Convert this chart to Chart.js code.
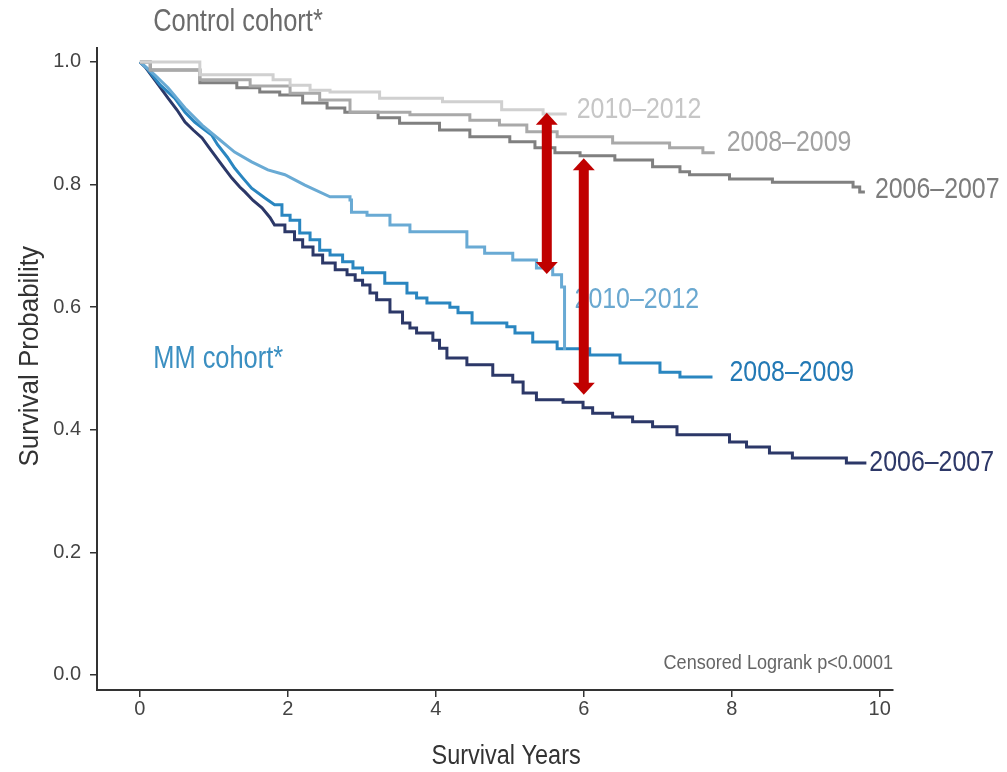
<!DOCTYPE html>
<html>
<head>
<meta charset="utf-8">
<script src="https://cdn.jsdelivr.net/npm/chart.js@4/dist/chart.umd.min.js"></script>
<style>
  body { margin: 0; background: #fff; }
  #wrap { width: 1007px; height: 772px; }
</style>
</head>
<body>
<div id="wrap"><canvas id="survival" width="1007" height="772"></canvas></div>
<script>
const xTicks = [0, 2, 4, 6, 8, 10];
const yTicks = [0, 0.2, 0.4, 0.6, 0.8, 1.0];

// control cohort (step times in years, survival after the step)
const ctrl0607Years = [0, 0.14, 0.81, 1.31, 1.62, 1.89, 2.20, 2.53, 2.77, 3.22, 3.51, 4.05, 4.46, 5.00, 5.34, 5.61, 5.95, 6.42, 6.93, 7.30, 7.43, 7.97, 8.55, 9.64, 9.73, 9.80];
const ctrl0607Surv = [1.000, 0.987, 0.966, 0.958, 0.951, 0.946, 0.933, 0.925, 0.918, 0.909, 0.900, 0.889, 0.878, 0.870, 0.860, 0.852, 0.847, 0.840, 0.829, 0.821, 0.816, 0.809, 0.804, 0.796, 0.788, 0.788];
const ctrl0809Years = [0, 0.14, 0.81, 1.49, 2.03, 2.43, 2.84, 3.65, 4.46, 4.86, 5.23, 5.64, 6.39, 7.16, 7.61, 7.77];
const ctrl0809Surv = [1.000, 0.987, 0.971, 0.961, 0.949, 0.938, 0.918, 0.914, 0.905, 0.897, 0.886, 0.878, 0.868, 0.860, 0.852, 0.852];
const ctrl1012Years = [0, 0.81, 1.80, 2.03, 2.30, 2.57, 3.24, 4.09, 4.89, 5.45, 5.77];
const ctrl1012Surv = [1.000, 0.979, 0.971, 0.962, 0.954, 0.951, 0.941, 0.935, 0.922, 0.915, 0.915];

// MM cohort
const mm0607Years = [0, 0.07, 0.23, 0.38, 0.50, 0.61, 0.72, 0.84, 0.93, 1.01, 1.12, 1.24, 1.35, 1.42, 1.53, 1.65, 1.76, 1.82, 1.96, 2.09, 2.20, 2.34, 2.47, 2.64, 2.80, 2.91, 3.01, 3.11, 3.20, 3.38, 3.55, 3.65, 3.74, 3.96, 4.05, 4.15, 4.42, 4.77, 5.04, 5.18, 5.36, 5.72, 5.99, 6.12, 6.39, 6.66, 6.93, 7.26, 7.97, 8.20, 8.51, 8.82, 9.55, 9.82];
const mm0607Surv = [1.000, 0.992, 0.966, 0.941, 0.922, 0.902, 0.889, 0.876, 0.861, 0.848, 0.830, 0.811, 0.796, 0.788, 0.774, 0.762, 0.746, 0.734, 0.723, 0.710, 0.698, 0.685, 0.672, 0.661, 0.653, 0.644, 0.636, 0.623, 0.612, 0.592, 0.574, 0.566, 0.558, 0.546, 0.533, 0.517, 0.506, 0.489, 0.478, 0.460, 0.449, 0.445, 0.436, 0.427, 0.421, 0.413, 0.405, 0.392, 0.380, 0.372, 0.362, 0.354, 0.346, 0.346];
const mm0809Years = [0, 0.09, 0.27, 0.47, 0.61, 0.74, 0.88, 0.97, 1.05, 1.18, 1.28, 1.39, 1.51, 1.69, 1.82, 1.92, 2.03, 2.16, 2.30, 2.43, 2.57, 2.74, 2.88, 3.01, 3.31, 3.61, 3.74, 3.88, 4.19, 4.30, 4.49, 4.96, 5.07, 5.31, 5.64, 6.08, 6.49, 7.03, 7.30, 7.74];
const mm0809Surv = [1.000, 0.990, 0.963, 0.941, 0.918, 0.902, 0.889, 0.881, 0.865, 0.845, 0.827, 0.811, 0.794, 0.778, 0.767, 0.750, 0.742, 0.721, 0.710, 0.693, 0.685, 0.674, 0.664, 0.656, 0.639, 0.623, 0.615, 0.607, 0.600, 0.591, 0.574, 0.568, 0.558, 0.543, 0.532, 0.522, 0.509, 0.494, 0.486, 0.486];
const mm1012Years = [0, 0.20, 0.38, 0.61, 0.84, 1.05, 1.28, 1.51, 1.73, 1.96, 2.23, 2.57, 2.84, 2.86, 3.07, 3.38, 3.65, 4.42, 4.66, 5.04, 5.36, 5.58, 5.70, 5.74];
const mm1012Surv = [1.000, 0.979, 0.958, 0.925, 0.897, 0.876, 0.853, 0.837, 0.824, 0.816, 0.799, 0.780, 0.775, 0.755, 0.750, 0.734, 0.723, 0.698, 0.688, 0.677, 0.664, 0.653, 0.633, 0.530];

// red double arrows: year, upper and lower survival
const arrowYears = [5.5, 6.0];
const arrowTop = [0.917, 0.843];
const arrowBottom = [0.654, 0.457];

const FONT = '"Liberation Sans", Arial, sans-serif';

// dense early events drawn as a slope, later ones as steps
function points(years, surv, smoothUntil) {
    const out = [];
    years.forEach(function (t, i) {
        if (i > smoothUntil) out.push({ x: t, y: surv[i - 1] });
        out.push({ x: t, y: surv[i] });
    });
    return out;
}

function curve(label, years, surv, smoothUntil, color, labelColor, dx, dy) {
    return {
        label: label,
        data: points(years, surv, smoothUntil),
        borderColor: color,
        borderWidth: 3,
        pointRadius: 0,
        fill: false,
        tension: 0,
        borderJoinStyle: 'miter',
        endLabel: { color: labelColor, dx: dx, dy: dy }
    };
}

// narrow text like the original figure
function narrowText(c, text, x, y, align, squeeze, angle) {
    c.save();
    c.translate(x, y);
    if (angle) c.rotate(angle);
    c.scale(squeeze, 1);
    c.textAlign = align;
    c.fillText(text, 0, 0);
    c.restore();
}

// end-of-curve labels, cohort notes, axis titles and the red arrows
const overlay = {
    id: 'overlay',
    afterDatasetsDraw(chart) {
        const c = chart.ctx;
        const xs = chart.scales.x;
        const ys = chart.scales.y;

        c.save();
        c.textBaseline = 'middle';
        c.font = '30px ' + FONT;
        chart.data.datasets.forEach(function (ds) {
            const last = ds.data[ds.data.length - 1];
            c.fillStyle = ds.endLabel.color;
            narrowText(c, ds.label, xs.getPixelForValue(last.x) + ds.endLabel.dx, ys.getPixelForValue(last.y) + ds.endLabel.dy, 'left', 0.83);
        });

        c.font = '31px ' + FONT;
        c.fillStyle = '#6b6b6b';
        narrowText(c, 'Control cohort*', xs.getPixelForValue(0.18), ys.getPixelForValue(1.064), 'left', 0.82);
        c.fillStyle = '#3b8fc1';
        narrowText(c, 'MM cohort*', xs.getPixelForValue(0.18), ys.getPixelForValue(0.514), 'left', 0.82);

        c.font = '21px ' + FONT;
        c.fillStyle = '#666';
        narrowText(c, 'Censored Logrank p<0.0001', xs.right, ys.getPixelForValue(0.0196), 'right', 0.86);

        c.font = '27px ' + FONT;
        c.fillStyle = '#333';
        narrowText(c, 'Survival Years', xs.getPixelForValue(4.95), chart.height - 15, 'center', 0.87);
        narrowText(c, 'Survival Probability', 31, ys.getPixelForValue(0.52), 'center', 0.96, -Math.PI / 2);

        c.fillStyle = '#c00000';
        arrowYears.forEach(function (yr, i) {
            const px = xs.getPixelForValue(yr);
            const top = ys.getPixelForValue(arrowTop[i]);
            const bot = ys.getPixelForValue(arrowBottom[i]);
            const head = 12, half = 11, shaft = 5;
            c.fillRect(px - shaft, top + head - 1, shaft * 2, bot - top - head * 2 + 2);
            c.beginPath();
            c.moveTo(px, top);
            c.lineTo(px + half, top + head);
            c.lineTo(px - half, top + head);
            c.closePath();
            c.fill();
            c.beginPath();
            c.moveTo(px, bot);
            c.lineTo(px + half, bot - head);
            c.lineTo(px - half, bot - head);
            c.closePath();
            c.fill();
        });
        c.restore();
    }
};

new Chart(document.getElementById('survival'), {
    type: 'line',
    data: {
        datasets: [
            curve('2010\u20132012', ctrl1012Years, ctrl1012Surv, 0, '#d0d0d0', '#c6c6c6', 10, -4),
            curve('2008\u20132009', ctrl0809Years, ctrl0809Surv, 0, '#a9a9a9', '#a2a2a2', 12, -10),
            curve('2006\u20132007', ctrl0607Years, ctrl0607Surv, 0, '#808080', '#7c7c7c', 10, -2),
            curve('2010\u20132012', mm1012Years, mm1012Surv, 11, '#69aad4', '#6aa8d0', 10, -50),
            curve('2008\u20132009', mm0809Years, mm0809Surv, 14, '#2a86c0', '#2379b5', 17, -4),
            curve('2006\u20132007', mm0607Years, mm0607Surv, 17, '#2c3868', '#2d3868', 3, 0)
        ]
    },
    options: {
        responsive: false,
        animation: false,
        devicePixelRatio: 1,
        layout: { padding: { top: 48, right: 114, left: 0, bottom: 0 } },
        plugins: {
            legend: { display: false },
            tooltip: { enabled: false }
        },
        scales: {
            x: {
                type: 'linear',
                min: -0.58,
                max: 10.18,
                afterBuildTicks: function (scale) {
                    scale.ticks = xTicks.map(function (v) { return { value: v }; });
                },
                afterFit: function (scale) { scale.height = 82; },
                grid: { drawOnChartArea: false, drawTicks: true, tickLength: 7, color: '#333', lineWidth: 1.5 },
                border: { display: true, color: '#333', width: 2 },
                ticks: { color: '#444', padding: 0, font: { family: FONT, size: 20 } }
            },
            y: {
                type: 'linear',
                min: -0.0245,
                max: 1.0228,
                afterBuildTicks: function (scale) {
                    scale.ticks = yTicks.map(function (v) { return { value: v }; });
                },
                afterFit: function (scale) { scale.width = 97; },
                grid: { drawOnChartArea: false, drawTicks: true, tickLength: 7, color: '#333', lineWidth: 1.5 },
                border: { display: true, color: '#333', width: 2 },
                ticks: {
                    color: '#444',
                    padding: 9,
                    font: { family: FONT, size: 20 },
                    callback: function (v) { return v.toFixed(1); }
                }
            }
        }
    },
    plugins: [overlay]
});
</script>
</body>
</html>
